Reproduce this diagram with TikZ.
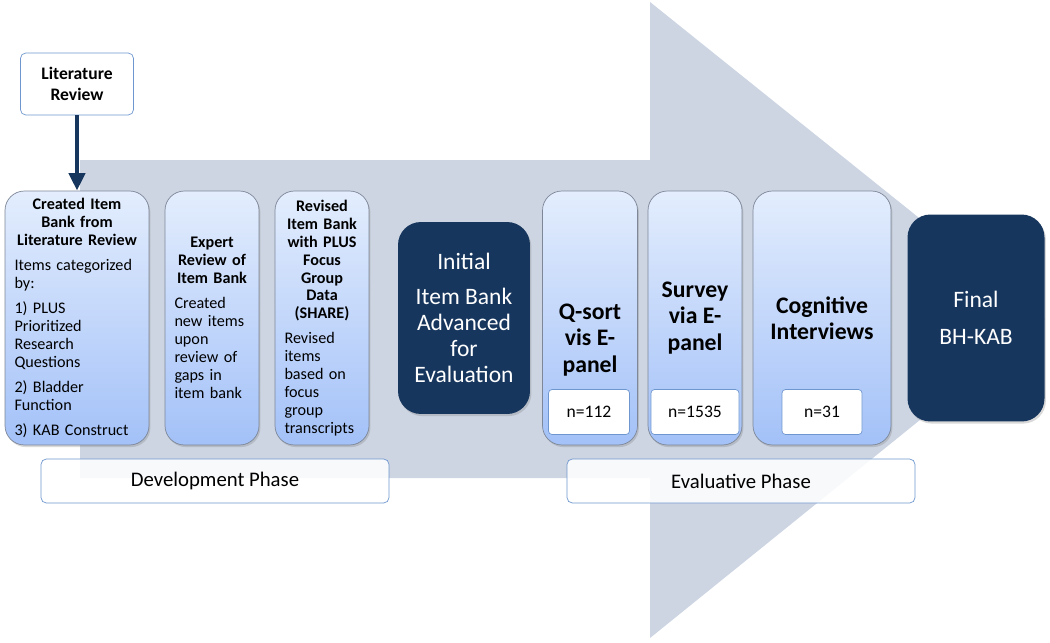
\documentclass[tikz,border=0pt]{standalone}
\usepackage{fontspec}
\setmainfont{Carlito}
\usetikzlibrary{positioning,shadows,arrows.meta}
\definecolor{arrowgray}{HTML}{CDD5E3}
\definecolor{navy}{HTML}{17365D}
\definecolor{boxtop}{HTML}{E3EDFD}
\definecolor{boxbot}{HTML}{A3C1F8}
\definecolor{boxline}{HTML}{7D8797}
\definecolor{phaseline}{HTML}{6F97CF}
\begin{document}
\begin{tikzpicture}[x=0.02cm,y=-0.02cm]
\path[use as bounding box] (0,0) rectangle (1050,642);

\tikzstyle{every node}+=[inner sep=0pt]
\tikzstyle{stage}=[draw=boxline,rounded corners=11pt,top color=boxtop,bottom color=boxbot,
  minimum height=5.08cm,font=\fontsize{9.2}{10.2}\selectfont,
  drop shadow={opacity=0.3,shadow xshift=0.8pt,shadow yshift=-1.2pt}]
\tikzstyle{dark}=[fill=navy,rounded corners=13pt,text=white,align=center,
  font=\fontsize{13.4}{14.8}\selectfont,
  drop shadow={opacity=0.3,shadow xshift=0.8pt,shadow yshift=-1.2pt}]
\tikzstyle{head}=[align=center,font=\fontsize{13.5}{15}\selectfont\bfseries]
\tikzstyle{count}=[draw=phaseline,fill=white,rounded corners=2pt,minimum height=0.9cm,
  font=\fontsize{10}{12}\selectfont]
\tikzstyle{phase}=[draw=phaseline,fill=white,fill opacity=0.88,text opacity=1,rounded corners=3pt,
  minimum width=6.96cm,minimum height=0.88cm,font=\fontsize{11.8}{14}\selectfont]

% big arrow behind
\fill[arrowgray] (80,160) -- (650,160) -- (650,2) -- (1045,319) -- (650,638)
  -- (650,478) -- (80,478) -- cycle;

% development stages
\node[draw=phaseline,fill=white,rounded corners=3pt,minimum width=2.26cm,minimum height=1.24cm,
  align=center,font=\fontsize{10}{11.5}\selectfont\bfseries] (litrev) at (77,84)
  {Literature\\Review};
\node[stage,minimum width=2.88cm,text width=2.5cm] (created) at (77,318) {%
  {\centering\bfseries Created Item\\Bank from\\Literature Review\par}\vspace{4pt}
  \raggedright Items categorized\\by:\par\vspace{4pt}
  1) PLUS\\Prioritized\\Research\\Questions\par\vspace{4pt}
  2) Bladder\\Function\par\vspace{4pt}
  3) KAB Construct};
\node[stage,minimum width=1.88cm,text width=1.5cm] (expert) at (212,318) {%
  {\centering\bfseries Expert\\Review of\\Item Bank\par}\vspace{4pt}
  \raggedright Created\\new items\\upon\\review of\\gaps in\\item bank};
\node[stage,minimum width=1.88cm,text width=1.5cm] (revised) at (322,318) {%
  {\centering\bfseries Revised\\Item Bank\\with PLUS\\Focus\\Group\\Data\\(SHARE)\par}\vspace{4pt}
  \raggedright Revised\\items\\based on\\focus\\group\\transcripts};

\draw[navy,line width=2.8pt,-{Triangle[width=9pt,length=10pt]}] (litrev) -- (created);

\node[dark,minimum width=2.64cm,minimum height=3.84cm] (initial) at (464,318)
  {Initial\\[5pt]Item Bank\\Advanced\\for\\Evaluation};

% evaluative stages
\node[stage,minimum width=1.9cm] (qsort) at (590,318) {};
\node[stage,minimum width=1.88cm] (survey) at (695,318) {};
\node[stage,minimum width=2.76cm] (cognitive) at (822,318) {};
\node[head] (qsorttxt) at (590,340) {Q-sort\\vis E-\\panel};
\node[head] (surveytxt) at (695,318) {Survey\\via E-\\panel};
\node[head] (cogtxt) at (822,318) {Cognitive\\Interviews};
\node[count,minimum width=1.62cm] (nqsort) at (589,412) {n=112};
\node[count,minimum width=1.76cm] (nsurvey) at (695,412) {n=1535};
\node[count,minimum width=1.6cm] (ncog) at (822,412) {n=31};

\node[dark,minimum width=2.74cm,minimum height=4.14cm] (final) at (976,318)
  {Final\\[6pt]BH-KAB};

% phases
\node[phase] (devphase) at (215,481) {Development Phase};
\node[phase] (evalphase) at (741,481) {Evaluative Phase};
\end{tikzpicture}
\end{document}
